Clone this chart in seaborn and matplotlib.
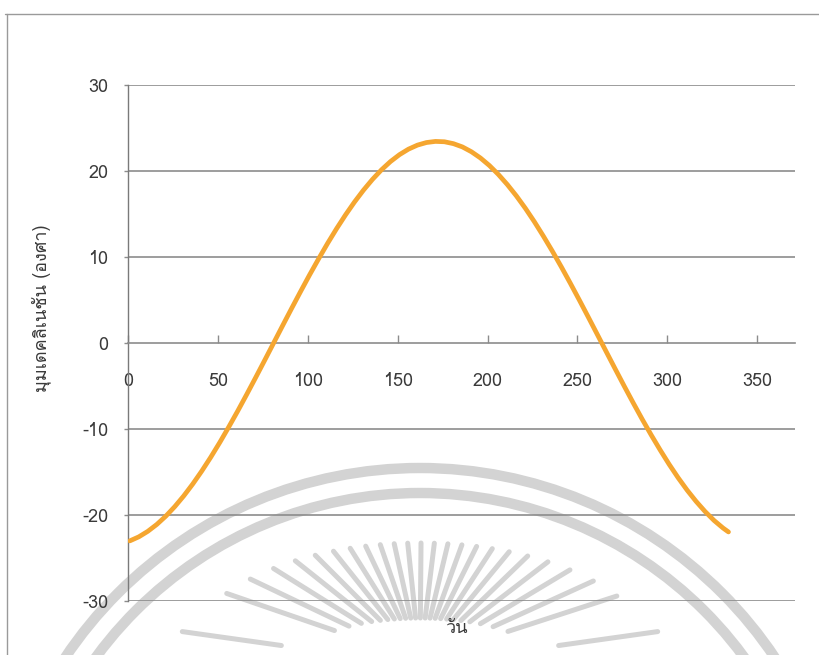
import numpy as np
import pandas as pd
import matplotlib
matplotlib.use("Agg")
import matplotlib.pyplot as plt
import seaborn as sns
from matplotlib import font_manager
from matplotlib.ft2font import FT2Font
from matplotlib.patches import Arc

# Solar declination angle through the year
days = [1, 6, 11, 16, 21, 26, 31, 36, 41, 46, 51, 56, 61, 66, 71, 76, 81, 86,
        91, 96, 101, 106, 111, 116, 121, 126, 131, 136, 141, 146, 151, 156,
        161, 166, 171, 176, 181, 186, 191, 196, 201, 206, 211, 216, 221, 226,
        231, 236, 241, 246, 251, 256, 261, 266, 271, 276, 281, 286, 291, 296,
        301, 306, 311, 316, 321, 326, 331, 334]
declination = [-23.01, -22.54, -21.90, -21.10, -20.14, -19.03, -17.78, -16.40,
               -14.90, -13.29, -11.58, -9.78, -7.92, -5.99, -4.02, -2.02,
               0.00, 2.02, 4.02, 5.99, 7.92, 9.78, 11.58, 13.29, 14.90, 16.40,
               17.78, 19.03, 20.14, 21.10, 21.90, 22.54, 23.01, 23.31, 23.44,
               23.40, 23.18, 22.80, 22.24, 21.52, 20.64, 19.60, 18.42, 17.11,
               15.67, 14.11, 12.44, 10.69, 8.86, 6.96, 5.01, 3.02, 1.01,
               -1.01, -3.02, -5.01, -6.96, -8.86, -10.69, -12.44, -14.11,
               -15.67, -17.11, -18.42, -19.60, -20.64, -21.52, -21.97]
x_ticks = [0, 50, 100, 150, 200, 250, 300, 350]
y_ticks = [-30, -20, -10, 0, 10, 20, 30]
x_label = "วัน"
y_label = "มุมเดคลิเนชัน (องศา)"


def font_with_thai():
    for f in font_manager.fontManager.ttflist:
        try:
            if ord("ม") in FT2Font(f.fname).get_charmap():
                return f.name
        except Exception:
            continue
    return None


sns.set_style("white")
thai = font_with_thai()
families = ([thai] if thai else []) + ["DejaVu Sans"]
plt.rcParams["font.family"] = families
plt.rcParams["axes.unicode_minus"] = False

W, H = 819, 655
fig = plt.figure(figsize=(W / 100, H / 100), dpi=100)

# Background emblem, drawn in pixel coordinates
bg = fig.add_axes([0, 0, 1, 1], zorder=0)
bg.set_xlim(0, W)
bg.set_ylim(H, 0)
bg.axis("off")
wm = "#d3d3d3"
for r in (427, 402):
    bg.add_patch(Arc((420, 895), 2 * r, 2 * r, theta1=180, theta2=360,
                     color=wm, lw=7.5))
cx, cy = 420, 660
for ang in np.arange(18, 163, 6.5):
    t = np.deg2rad(ang)
    c, s = np.cos(t), np.sin(t)
    r_out = 1 / np.sqrt(c**2 / 235**2 + s**2 / 117**2)
    r_in = 1 / np.sqrt(c**2 / 120**2 + s**2 / 42**2)
    bg.plot([cx + r_in * c, cx + r_out * c], [cy - r_in * s, cy - r_out * s],
            color=wm, lw=3.6, solid_capstyle="round")
for ang in (172, 8):
    t = np.deg2rad(ang)
    c, s = np.cos(t), np.sin(t)
    bg.plot([cx + 140 * c, cx + 240 * c], [cy - 140 * s + 5, cy - 240 * s + 5],
            color=wm, lw=3.6, solid_capstyle="round")
# page frame
bg.plot([5, W], [14, 14], color="#9a9a9a", lw=1.0)
bg.plot([7, 7], [14, H], color="#9a9a9a", lw=1.0)

ax = fig.add_axes([128 / W, 54 / H, 667 / W, 516 / H], zorder=1)
ax.patch.set_alpha(0)

df = pd.DataFrame({"day": days, "decl": declination})
sns.lineplot(data=df, x="day", y="decl", ax=ax, color="#f5a630", lw=3.4,
             solid_capstyle="round", solid_joinstyle="round", zorder=3)

ax.set_xlim(0, 371)
ax.set_ylim(-30, 30)
ax.set_xticks(x_ticks)
ax.set_yticks(y_ticks)
ax.set_xlabel("")
ax.set_ylabel("")

grid_c = "#8c8c8c"
for v in y_ticks:
    if v != 0:
        ax.axhline(v, color=grid_c, lw=1.2, zorder=1)

for side in ("top", "right"):
    ax.spines[side].set_visible(False)
ax.spines["bottom"].set_position(("data", 0))
ax.spines["bottom"].set_color(grid_c)
ax.spines["bottom"].set_linewidth(1.2)
ax.spines["left"].set_color("#7a7a7a")
ax.spines["left"].set_linewidth(1.0)

ax.tick_params(axis="x", bottom=True, direction="in", length=6, width=1.0,
               color=grid_c, pad=21, labelsize=13, labelcolor="#3a3a3a")
ax.tick_params(axis="y", left=True, direction="out", length=3, width=1.0,
               color=grid_c, pad=11, labelsize=13, labelcolor="#3a3a3a")

fig.text(41 / W, 1 - 308 / H, y_label, rotation=90, ha="center", va="center",
         fontsize=13, color="#3a3a3a")
fig.text(456 / W, 1 - 628 / H, x_label, ha="center", va="center",
         fontsize=13, color="#3a3a3a")

fig.savefig("out.png", dpi=100)
